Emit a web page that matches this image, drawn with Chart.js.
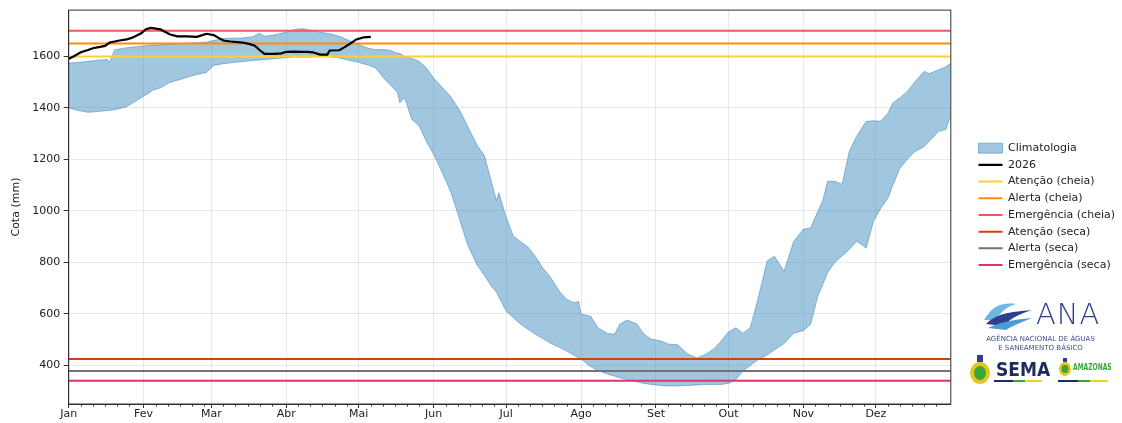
<!DOCTYPE html>
<html>
<head>
<meta charset="utf-8">
<script src="https://cdn.jsdelivr.net/npm/chart.js@4.4.1/dist/chart.umd.min.js"></script>
<style>
body { margin: 0; background: #fff; font-family: "DejaVu Sans", sans-serif; }
#wrap { position: relative; width: 1122px; height: 423px; }
.abs { position: absolute; }
.ana-txt { left: 1036px; top: 297px; font-family: "DejaVu Sans", sans-serif; font-weight: 200; font-size: 29px; color: #2f3f8f; letter-spacing: 1px; }
.ana-sub { left: 978px; top: 335px; width: 125px; text-align: center; font-size: 7px; line-height: 9px; color: #3c4f96; }
.sema { left: 996px; top: 358px; font-size: 19px; font-weight: bold; color: #1f2b5e; font-family: "Liberation Sans Narrow", "DejaVu Sans Condensed", sans-serif; }
.amz { left: 1073px; top: 361px; font-size: 9.5px; font-weight: bold; color: #3aa53a; font-family: "Liberation Sans Narrow", "DejaVu Sans Condensed", sans-serif; transform: scaleX(0.7); transform-origin: left; }
.bar { height: 2px; background: linear-gradient(to right, #1f2b5e 0 40%, #3aa53a 40% 65%, #f2d21b 65% 100%); }
</style>
</head>
<body>
<div id="wrap">
<canvas id="myChart" width="1122" height="423"></canvas>

<!-- logos -->
<svg class="abs" style="left:982px;top:298px" width="52" height="34" viewBox="0 0 52 34">
  <path d="M2 22 C10 8 20 4 34 6 C26 8 18 14 14 22 Z" fill="#6fb6e3"/>
  <path d="M4 26 C14 16 26 14 50 12 C38 16 28 20 22 28 Z" fill="#2f3f8f"/>
  <path d="M6 30 C18 24 30 22 50 20 C40 24 30 28 24 32 Z" fill="#4a9bd6"/>
</svg>
<div class="abs ana-txt">ANA</div>
<div class="abs ana-sub">AGÊNCIA NACIONAL DE ÁGUAS<br>E SANEAMENTO BÁSICO</div>
<svg class="abs" style="left:968px;top:354px" width="24" height="32" viewBox="0 0 24 32">
  <ellipse cx="12" cy="19" rx="10" ry="11" fill="#e8c51e"/>
  <ellipse cx="12" cy="19" rx="6" ry="7" fill="#3aa53a"/>
  <rect x="9" y="1" width="6" height="7" fill="#2f3f8f"/>
</svg>
<div class="abs sema">SEMA</div>
<div class="abs bar" style="left:994px;top:380px;width:48px"></div>
<svg class="abs" style="left:1058px;top:357px" width="14" height="20" viewBox="0 0 14 20">
  <ellipse cx="7" cy="12" rx="6" ry="7" fill="#e8c51e"/>
  <ellipse cx="7" cy="12" rx="3.5" ry="4" fill="#3aa53a"/>
  <rect x="5" y="1" width="4" height="4" fill="#2f3f8f"/>
</svg>
<div class="abs amz">AMAZONAS</div>
<div class="abs bar" style="left:1058px;top:380px;width:50px"></div>
</div>

<script>
// meses e eixos
const months = ['Jan', 'Fev', 'Mar', 'Abr', 'Mai', 'Jun', 'Jul', 'Ago', 'Set', 'Out', 'Nov', 'Dez'];
const monthStarts = [0, 31, 59, 90, 120, 151, 181, 212, 243, 273, 304, 334];
const yTicks = [400, 600, 800, 1000, 1200, 1400, 1600];

// climatologia (faixa min-max), dia do ano
const climaDays = [0, 4, 8, 12, 16, 17, 19, 24, 28, 31, 35, 38, 42, 46, 50, 54, 57, 60, 64, 68, 72, 76, 79, 81, 86, 90, 94, 97, 100, 104, 108, 112, 116, 120, 124, 127, 130, 133, 136, 137, 139, 142, 145, 148, 151, 154, 158, 162, 165, 169, 172, 175, 177, 178, 181, 184, 187, 190, 193, 196, 199, 203, 206, 209, 211, 212, 216, 219, 223, 226, 228, 231, 235, 238, 241, 245, 248, 252, 256, 260, 264, 267, 270, 273, 276, 279, 282, 285, 289, 292, 296, 300, 304, 307, 310, 312, 314, 317, 320, 323, 326, 330, 333, 336, 339, 341, 344, 347, 350, 354, 356, 360, 363, 365];
const climaUpper = [1574, 1577, 1581, 1585, 1588, 1578, 1626, 1634, 1638, 1641, 1644, 1645, 1648, 1650, 1652, 1654, 1656, 1662, 1670, 1671, 1672, 1676, 1690, 1678, 1685, 1695, 1706, 1708, 1702, 1694, 1688, 1678, 1662, 1646, 1632, 1626, 1627, 1624, 1612, 1612, 1600, 1592, 1581, 1555, 1516, 1485, 1445, 1387, 1330, 1255, 1215, 1110, 1040, 1070, 975, 902, 880, 860, 825, 780, 747, 688, 657, 643, 648, 600, 591, 546, 523, 522, 560, 576, 562, 522, 502, 495, 483, 480, 445, 429, 445, 465, 495, 530, 546, 525, 546, 650, 805, 824, 766, 882, 929, 934, 999, 1040, 1115, 1115, 1103, 1231, 1290, 1348, 1350, 1348, 1380, 1419, 1440, 1464, 1500, 1542, 1533, 1548, 1560, 1574];
const climaLower = [1400, 1390, 1383, 1386, 1390, 1391, 1393, 1405, 1428, 1445, 1470, 1478, 1500, 1510, 1522, 1532, 1538, 1565, 1572, 1576, 1580, 1584, 1586, 1588, 1592, 1595, 1598, 1597, 1598, 1600, 1599, 1594, 1585, 1577, 1566, 1555, 1520, 1490, 1460, 1420, 1440, 1355, 1330, 1270, 1220, 1160, 1076, 960, 870, 790, 750, 705, 685, 665, 611, 585, 560, 540, 522, 505, 488, 470, 456, 440, 430, 425, 395, 380, 366, 358, 352, 345, 336, 330, 326, 322, 320, 320, 322, 324, 326, 326, 326, 330, 345, 378, 400, 420, 440, 460, 485, 525, 535, 560, 670, 714, 760, 800, 825, 850, 882, 856, 960, 1010, 1050, 1100, 1167, 1200, 1230, 1250, 1270, 1309, 1316, 1374];

// cota observada 2026
const days2026 = [0, 2, 5, 8, 10, 13, 15, 17, 19, 21, 24, 26, 28, 30, 32, 34, 36, 38, 40, 42, 45, 49, 53, 55, 57, 60, 62, 64, 67, 72, 75, 77, 79, 81, 85, 88, 90, 93, 96, 99, 101, 104, 107, 108, 112, 114, 116, 119, 122, 125];
const cota2026 = [1591, 1600, 1616, 1625, 1632, 1637, 1641, 1654, 1658, 1662, 1666, 1672, 1680, 1690, 1706, 1711, 1708, 1705, 1695, 1685, 1678, 1678, 1676, 1682, 1688, 1683, 1672, 1662, 1658, 1654, 1648, 1642, 1625, 1610, 1610, 1612, 1618, 1619, 1618, 1618, 1616, 1607, 1607, 1623, 1624, 1635, 1647, 1666, 1674, 1676];

// cotas de referência
const limiarNomes = ['Atenção (cheia)', 'Alerta (cheia)', 'Emergência (cheia)', 'Atenção (seca)', 'Alerta (seca)', 'Emergência (seca)'];
const limiarValores = [1600, 1650, 1700, 425, 378, 340];
const limiarCores = ['#fcd232', '#ff8c0a', '#ea5a5e', '#d2401a', '#737373', '#e6306e'];

const FONT = '"DejaVu Sans", sans-serif';
const pts = (xs, ys) => xs.map((d, i) => ({ x: d, y: ys[i] }));

const limiarSets = limiarNomes.map((nome, i) => ({
    label: nome,
    data: [{ x: 0, y: limiarValores[i] }, { x: 365, y: limiarValores[i] }],
    borderColor: limiarCores[i],
    backgroundColor: limiarCores[i],
    borderWidth: 2,
    pointRadius: 0,
    pointStyle: 'line',
    fill: false,
    order: 1
}));

// moldura, ticks menores e posição da legenda
const extras = {
    id: 'extras',
    afterLayout(chart) {
        const lg = chart.legend;
        const dx = chart.chartArea.right + 22 - lg.left;
        lg.left += dx; lg.right += dx;
        lg.top -= 8.5; lg.bottom -= 8.5;
    },
    afterDraw(chart) {
        const { ctx, chartArea: a, scales: { x } } = chart;
        ctx.save();
        ctx.strokeStyle = '#333';
        ctx.lineWidth = 1;
        monthStarts.forEach((m, i) => {
            const fim = i < 11 ? monthStarts[i + 1] : 365;
            for (let d = m + 5; d < fim - 1; d += 5) {
                const px = Math.round(x.getPixelForValue(d)) + 0.5;
                ctx.beginPath();
                ctx.moveTo(px, a.bottom);
                ctx.lineTo(px, a.bottom + 2.5);
                ctx.stroke();
            }
        });
        ctx.strokeRect(a.left, a.top, a.right - a.left, a.bottom - a.top);
        ctx.restore();
    }
};

const ctx = document.getElementById('myChart');
const myChart = new Chart(ctx, {
    type: 'line',
    data: {
        datasets: [
            {
                label: 'Climatologia',
                data: pts(climaDays, climaUpper),
                backgroundColor: 'rgba(31, 119, 180, 0.42)',
                borderColor: 'rgba(31, 119, 180, 0.45)',
                borderWidth: 1,
                pointRadius: 0,
                pointStyle: 'rect',
                fill: '+1',
                order: 3
            },
            {
                label: '_inferior',
                data: pts(climaDays, climaLower),
                borderColor: 'rgba(31, 119, 180, 0.45)',
                borderWidth: 1,
                pointRadius: 0,
                fill: false,
                order: 3
            },
            {
                label: '2026',
                data: pts(days2026, cota2026),
                borderColor: '#000',
                backgroundColor: '#000',
                borderWidth: 2.2,
                pointRadius: 0,
                pointStyle: 'line',
                fill: false,
                order: 0
            },
            ...limiarSets
        ]
    },
    plugins: [extras],
    options: {
        responsive: false,
        animation: false,
        layout: { padding: { top: 9, right: 19, left: 5, bottom: 1.8 } },
        plugins: {
            tooltip: { enabled: false },
            legend: {
                position: 'right',
                align: 'center',
                labels: {
                    usePointStyle: true,
                    pointStyleWidth: 24,
                    boxWidth: 24,
                    boxHeight: 10,
                    padding: 5.7,
                    color: '#222',
                    font: { family: FONT, size: 11 },
                    filter: (item) => item.datasetIndex !== 1,
                    sort: (a, b) => a.datasetIndex - b.datasetIndex
                }
            }
        },
        scales: {
            x: {
                type: 'linear',
                min: 0,
                max: 365,
                afterBuildTicks: (s) => { s.ticks = monthStarts.map(v => ({ value: v })); },
                ticks: {
                    autoSkip: false,
                    maxRotation: 0,
                    padding: 0,
                    color: '#222',
                    font: { family: FONT, size: 11 },
                    callback: (v) => months[monthStarts.indexOf(v)]
                },
                grid: { color: 'rgba(0,0,0,0.09)', tickColor: '#333', tickLength: 4 },
                border: { color: '#333' }
            },
            y: {
                min: 250,
                max: 1780,
                afterBuildTicks: (s) => { s.ticks = yTicks.map(v => ({ value: v })); },
                ticks: {
                    padding: 3.5,
                    color: '#222',
                    font: { family: FONT, size: 11 },
                    callback: (v) => String(v)
                },
                title: { display: true, text: 'Cota (mm)', color: '#222', font: { family: FONT, size: 11 }, padding: { top: 4.4, bottom: 6.1 } },
                grid: { color: 'rgba(0,0,0,0.09)', tickColor: '#333', tickLength: 5 },
                border: { color: '#333' }
            }
        }
    }
});
</script>
</body>
</html>
